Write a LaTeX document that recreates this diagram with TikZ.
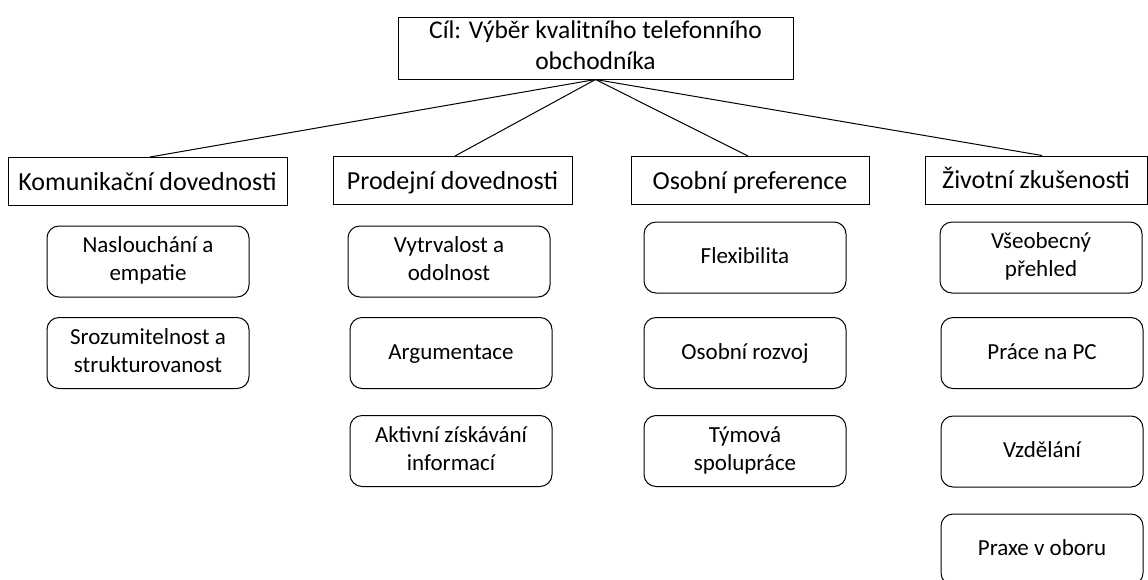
\documentclass[tikz,border=0pt]{standalone}
\usepackage{fontspec}
\setmainfont{Carlito}
% struts that fix the baseline inside the boxes
\newcommand{\gstr}{\rule[-5pt]{0pt}{24pt}}
\newcommand{\istr}{\rule[-5pt]{0pt}{22pt}}
\tikzset{
    goalbox/.style={draw, line width=1pt, align=center, inner sep=0pt,
        font=\fontsize{25.5}{31}\selectfont, execute at begin node=\gstr},
    catbox/.style={draw, line width=1pt, inner sep=0pt, minimum height=48,
        text height=22pt, text depth=5pt, font=\fontsize{26}{31}\selectfont},
    itembox/.style={draw, line width=1pt, rounded corners=12pt, align=center,
        inner sep=0pt, minimum width=202, minimum height=71,
        font=\fontsize{23}{28}\selectfont, execute at begin node=\istr},
}
\begin{document}
\begin{tikzpicture}[x=1pt, y=-1pt]
    \useasboundingbox[fill=white] (0, 0) rectangle (1148, 579);

    % goal
    \node[goalbox, minimum width=395, minimum height=62] (goal) at (595.5, 48)
        {Cíl: Výběr kvalitního telefonního\\\gstr obchodníka};

    % categories
    \node[catbox, minimum width=279] (kom) at (147.5, 181.5) {Komunikační dovednosti};
    \node[catbox, minimum width=239] (pro) at (452.5, 180.5) {Prodejní dovednosti};
    \node[catbox, minimum width=238] (oso) at (750, 180.5) {Osobní preference};
    \node[catbox, minimum width=222] (ziv) at (1036, 180) {Životní zkušenosti};

    \coordinate (g) at (goal.south);
    \draw[line width=1pt] (g) -- (kom.north -| 150, 0);
    \draw[line width=1pt] (g) -- (pro.north -| 455, 0);
    \draw[line width=1pt] (g) -- (oso.north -| 748, 0);
    \draw[line width=1pt] (g) -- (ziv.north -| 1042, 0);

    % items
    \node[itembox] (kom1) at (148, 261.5) {Naslouchání a\\\istr empatie};
    \node[itembox] (kom2) at (148, 353) {Srozumitelnost a\\\istr strukturovanost};

    \node[itembox] (pro1) at (449, 261.5) {Vytrvalost a\\\istr odolnost};
    \node[itembox] (pro2) at (451, 353) {Argumentace};
    \node[itembox] (pro3) at (451, 451) {Aktivní získávání\\\istr informací};

    \node[itembox] (oso1) at (745, 257.5) {Flexibilita};
    \node[itembox] (oso2) at (745, 353) {Osobní rozvoj};
    \node[itembox] (oso3) at (745, 451) {Týmová\\\istr spolupráce};

    \node[itembox] (ziv1) at (1041, 257.5) {Všeobecný\\\istr přehled};
    \node[itembox] (ziv2) at (1042, 353) {Práce na PC};
    \node[itembox] (ziv3) at (1042, 451.5) {Vzdělání};
    \node[itembox] (ziv4) at (1042, 549.5) {Praxe v oboru};
\end{tikzpicture}
\end{document}
